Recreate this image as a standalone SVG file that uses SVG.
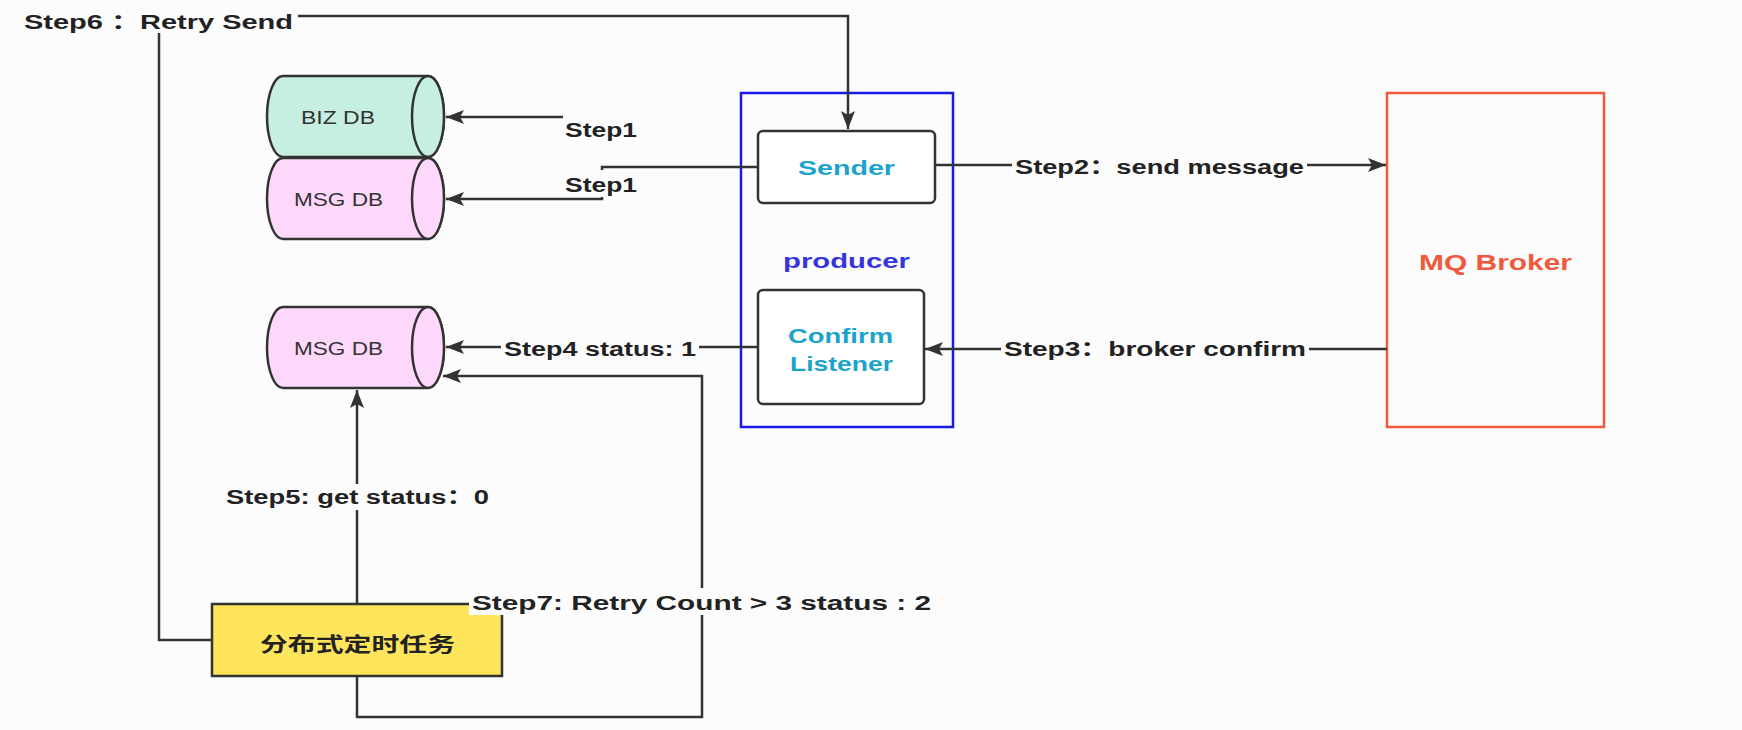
<svg xmlns="http://www.w3.org/2000/svg" width="1742" height="730" viewBox="0 0 1742 730">
<style>
.bg{fill:#fcfcfc}
.cyl{stroke:#333;stroke-width:2.5}
.biz{fill:#c6efe1}
.msg{fill:#fdd8fb}
.box{fill:#fff;stroke:#333;stroke-width:2.5}
.dbt{font-family:"Liberation Sans","Noto Sans",sans-serif;font-size:18px;fill:#333}
.lbl{font-family:"Liberation Sans","Noto Sans CJK SC",sans-serif;font-size:20px;font-weight:bold;fill:#222}
.conn{fill:none;stroke:#333;stroke-width:2.5}
.lb{fill:#fcfcfc}
.cyan{font-family:"Liberation Sans",sans-serif;font-size:21px;font-weight:bold;fill:#1ba3cc}
</style>
<defs>
<marker id="ah" markerUnits="userSpaceOnUse" markerWidth="20" markerHeight="16" refX="18" refY="8" orient="auto">
<path d="M0,1 L18,8 L0,15 L4,8 Z" fill="#333"/>
</marker>
</defs>
<rect class="bg" x="0" y="0" width="1742" height="730"/>

<g id="biz-db">
<path class="cyl biz" d="M283,76 H428 A16,40.5 0 0 1 428,157 H283 A16,40.5 0 0 1 283,76 Z"/>
<ellipse class="cyl biz" cx="428" cy="116.5" rx="16" ry="40.5"/>
<text class="dbt" x="301" y="124" textLength="74" lengthAdjust="spacingAndGlyphs">BIZ DB</text>
</g>
<g id="msg-db-1">
<path class="cyl msg" d="M283,158 H428 A16,40.5 0 0 1 428,239 H283 A16,40.5 0 0 1 283,158 Z"/>
<ellipse class="cyl msg" cx="428" cy="198.5" rx="16" ry="40.5"/>
<text class="dbt" x="294" y="206" textLength="89" lengthAdjust="spacingAndGlyphs">MSG DB</text>
</g>
<g id="msg-db-2">
<path class="cyl msg" d="M283,307 H428 A16,40.5 0 0 1 428,388 H283 A16,40.5 0 0 1 283,307 Z"/>
<ellipse class="cyl msg" cx="428" cy="347.5" rx="16" ry="40.5"/>
<text class="dbt" x="294" y="355" textLength="89" lengthAdjust="spacingAndGlyphs">MSG DB</text>
</g>

<g id="producer">
<rect x="741" y="93" width="212" height="334" fill="none" stroke="#1a1ae6" stroke-width="2.5"/>
<text x="783" y="268" textLength="127" lengthAdjust="spacingAndGlyphs" font-family="Liberation Sans,sans-serif" font-size="21" font-weight="bold" fill="#3535e0">producer</text>
</g>
<g id="sender">
<rect class="box" x="758" y="131" width="177" height="72" rx="5"/>
<text class="cyan" x="798" y="175" textLength="97" lengthAdjust="spacingAndGlyphs">Sender</text>
</g>
<g id="confirm-listener">
<rect class="box" x="758" y="290" width="166" height="114" rx="5"/>
<text class="cyan" x="788" y="343" textLength="105" lengthAdjust="spacingAndGlyphs">Confirm</text>
<text class="cyan" x="790" y="371" textLength="103" lengthAdjust="spacingAndGlyphs">Listener</text>
</g>
<g id="mq-broker">
<rect x="1387" y="93" width="217" height="334" fill="none" stroke="#f05a3c" stroke-width="2.5"/>
<text x="1419" y="270" textLength="153" lengthAdjust="spacingAndGlyphs" font-family="Liberation Sans,sans-serif" font-size="22" font-weight="bold" fill="#f05a3c">MQ Broker</text>
</g>
<g id="scheduler">
<rect x="212" y="604" width="290" height="72" fill="#fee55c" stroke="#333" stroke-width="2.5"/>
<text x="260" y="652" textLength="195" lengthAdjust="spacingAndGlyphs" font-family="Noto Sans CJK SC,sans-serif" font-size="20" font-weight="bold" fill="#222">分布式定时任务</text>
</g>

<g id="connectors">
<path class="conn" d="M212,640 H159 V16 H848 V129" marker-end="url(#ah)"/>
<path class="conn" d="M563,117 H446" marker-end="url(#ah)"/>
<path class="conn" d="M758,167 H602 V199 H446" marker-end="url(#ah)"/>
<path class="conn" d="M936,165 H1386" marker-end="url(#ah)"/>
<path class="conn" d="M1387,349 H925" marker-end="url(#ah)"/>
<path class="conn" d="M758,347 H446" marker-end="url(#ah)"/>
<path class="conn" d="M357,604 V390" marker-end="url(#ah)"/>
<path class="conn" d="M357,676 V717 H702 V376 H443" marker-end="url(#ah)"/>

<g id="labels">
<rect class="lb" x="20" y="4" width="278" height="29"/>
<text class="lbl" x="24" y="29" textLength="269" lengthAdjust="spacingAndGlyphs">Step6 ：Retry Send</text>
<text class="lbl" x="565" y="137" textLength="72" lengthAdjust="spacingAndGlyphs">Step1</text>
<rect class="lb" x="562" y="170" width="78" height="27"/>
<text class="lbl" x="565" y="192" textLength="72" lengthAdjust="spacingAndGlyphs">Step1</text>
<rect class="lb" x="1012" y="155" width="295" height="25"/>
<text class="lbl" x="1015" y="174" textLength="289" lengthAdjust="spacingAndGlyphs">Step2：send message</text>
<rect class="lb" x="1001" y="338" width="308" height="24"/>
<text class="lbl" x="1004" y="356" textLength="302" lengthAdjust="spacingAndGlyphs">Step3：broker confirm</text>
<rect class="lb" x="501" y="337" width="198" height="25"/>
<text class="lbl" x="504" y="356" textLength="192" lengthAdjust="spacingAndGlyphs">Step4 status: 1</text>
<rect class="lb" x="223" y="484" width="269" height="26"/>
<text class="lbl" x="226" y="504" textLength="263" lengthAdjust="spacingAndGlyphs">Step5: get status：0</text>
<rect class="lb" x="469" y="588" width="465" height="27"/>
<text class="lbl" x="472" y="610" textLength="459" lengthAdjust="spacingAndGlyphs">Step7: Retry Count &gt; 3 status : 2</text>
</g>
</g>
</svg>
